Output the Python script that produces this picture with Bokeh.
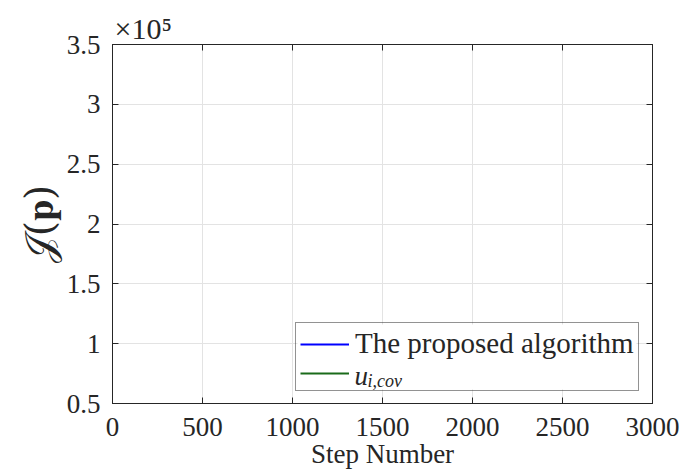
from bokeh.plotting import figure
from bokeh.models import (Range1d, FixedTicker, LinearAxis, Legend, LegendItem, BoxAnnotation)
from bokeh.core.properties import value
from bokeh.embed import file_html
from bokeh.resources import INLINE

nan = float("nan")

# ---- data (no curve is visible inside the reference plot area) ----
steps_proposed = [nan]
cost_proposed = [nan]
steps_ucov = [nan]
cost_ucov = [nan]

series_labels = ["The proposed algorithm", "u", "i,cov"]
x_ticks = [0, 500, 1000, 1500, 2000, 2500, 3000]
x_tick_labels = ["0", "500", "1000", "1500", "2000", "2500", "3000"]
y_ticks = [50000, 100000, 150000, 200000, 250000, 300000, 350000]
y_tick_labels = ["0.5", "1", "1.5", "2", "2.5", "3", "3.5"]
x_label = "Step Number"
y_label = "𝒥(𝐩)"
exponent_text = "×10⁵"

# ---- layout constants ----
W, H = 687, 475
FL, FR, FT, FB = 112, 652, 44, 403   # frame edges in pixels
X0, X1 = 0, 3000
Y0, Y1 = 50000, 350000
FONT = "Liberation Serif"
AX = "#262626"
GRID = "#e3e3e3"


def px_to_x(px):
    return X0 + (px - FL) / (FR - FL) * (X1 - X0)


def px_to_y(py):
    return Y0 + (FB - py) / (FB - FT) * (Y1 - Y0)


p = figure(width=W, height=H, output_backend="svg", toolbar_location=None,
           x_range=Range1d(X0, X1), y_range=Range1d(Y0, Y1),
           min_border_left=FL, min_border_right=W - FR,
           min_border_top=FT, min_border_bottom=H - FB,
           title=exponent_text)
p.outline_line_color = AX
p.outline_line_width = 1
p.background_fill_color = "white"
p.border_fill_color = "white"

# exponent marker as the (left aligned) title
p.title.align = "left"
p.title.offset = 2
p.title.standoff = 0
p.title.text_font = "Liberation Serif, DejaVu Serif"
p.title.text_font_style = "normal"
p.title.text_font_size = "30px"
p.title.text_color = "#262626"

r1 = p.line(steps_proposed, cost_proposed, line_color="#0000ff", line_width=2)
r2 = p.line(steps_ucov, cost_ucov, line_color="#1a6b1a", line_width=2)

# main axes
xa = p.xaxis[0]
ya = p.yaxis[0]
xa.ticker = FixedTicker(ticks=x_ticks)
ya.ticker = FixedTicker(ticks=y_ticks)
xa.major_label_overrides = {t: l for t, l in zip(x_ticks, x_tick_labels)}
ya.major_label_overrides = {t: l for t, l in zip(y_ticks, y_tick_labels)}
for ax in (xa, ya):
    ax.axis_line_color = AX
    ax.major_tick_line_color = AX
    ax.major_tick_in = 6
    ax.major_tick_out = 0
    ax.minor_tick_line_color = None
    ax.major_label_text_font = FONT
    ax.major_label_text_font_size = "27px"
    ax.major_label_text_color = "#262626"
    ax.axis_label_text_font = FONT
    ax.axis_label_text_font_style = "normal"
    ax.axis_label_text_color = "#262626"
xa.major_label_standoff = 14
ya.major_label_standoff = 12
xa.axis_label = x_label
xa.axis_label_text_font_size = "27px"
xa.axis_label_standoff = 0
ya.axis_label = y_label
ya.axis_label_text_font = "DejaVu Serif"
ya.axis_label_text_font_size = "39px"
ya.axis_label_standoff = 2

# box axes (top, right) with inward ticks and no labels
for loc, tk in (("above", x_ticks), ("right", y_ticks)):
    ax = LinearAxis(ticker=FixedTicker(ticks=tk), major_tick_in=6, major_tick_out=0,
                    minor_tick_line_color=None, axis_line_color=AX,
                    major_tick_line_color=AX, major_label_text_font_size="0px",
                    major_label_standoff=0)
    p.add_layout(ax, loc)

p.xgrid.ticker = FixedTicker(ticks=x_ticks)
p.ygrid.ticker = FixedTicker(ticks=y_ticks)
p.grid.grid_line_color = GRID
p.grid.grid_line_width = 1

# white panel under the legend (drawn just above the grid lines)
legend_bg = BoxAnnotation(left=px_to_x(297), right=px_to_x(636),
                          top=px_to_y(324), bottom=px_to_y(389),
                          fill_color="white", fill_alpha=1.0, line_color=None,
                          level="underlay")
p.add_layout(legend_bg)

# legend (transparent, so the subscripted label below shows through)
legend = Legend(items=[LegendItem(label=series_labels[0], renderers=[r1]),
                       LegendItem(label=" ", renderers=[r2])],
                location=(183, 12), padding=4, spacing=0,
                glyph_width=49, glyph_height=26, label_height=26, label_standoff=6,
                label_text_font=FONT, label_text_font_size="29px",
                label_text_color="#262626",
                border_line_color=AX, border_line_width=1,
                background_fill_alpha=0.0,
                margin=0)
p.add_layout(legend, "center")

# u_{i,cov}: italic main letter and subscript in the legend's second row
lab_u = p.text(x=[px_to_x(354)], y=[px_to_y(375)], text=[series_labels[1]],
               text_font=value(FONT), text_font_style="italic", text_font_size="27px",
               text_baseline="alphabetic", text_align="left", text_color="#262626")
lab_sub = p.text(x=[px_to_x(367)], y=[px_to_y(380)], text=[series_labels[2]],
                 text_font=value(FONT), text_font_style="italic", text_font_size="18px",
                 text_baseline="alphabetic", text_align="left", text_color="#262626")

open("out.html", "w").write(file_html(p, INLINE))
